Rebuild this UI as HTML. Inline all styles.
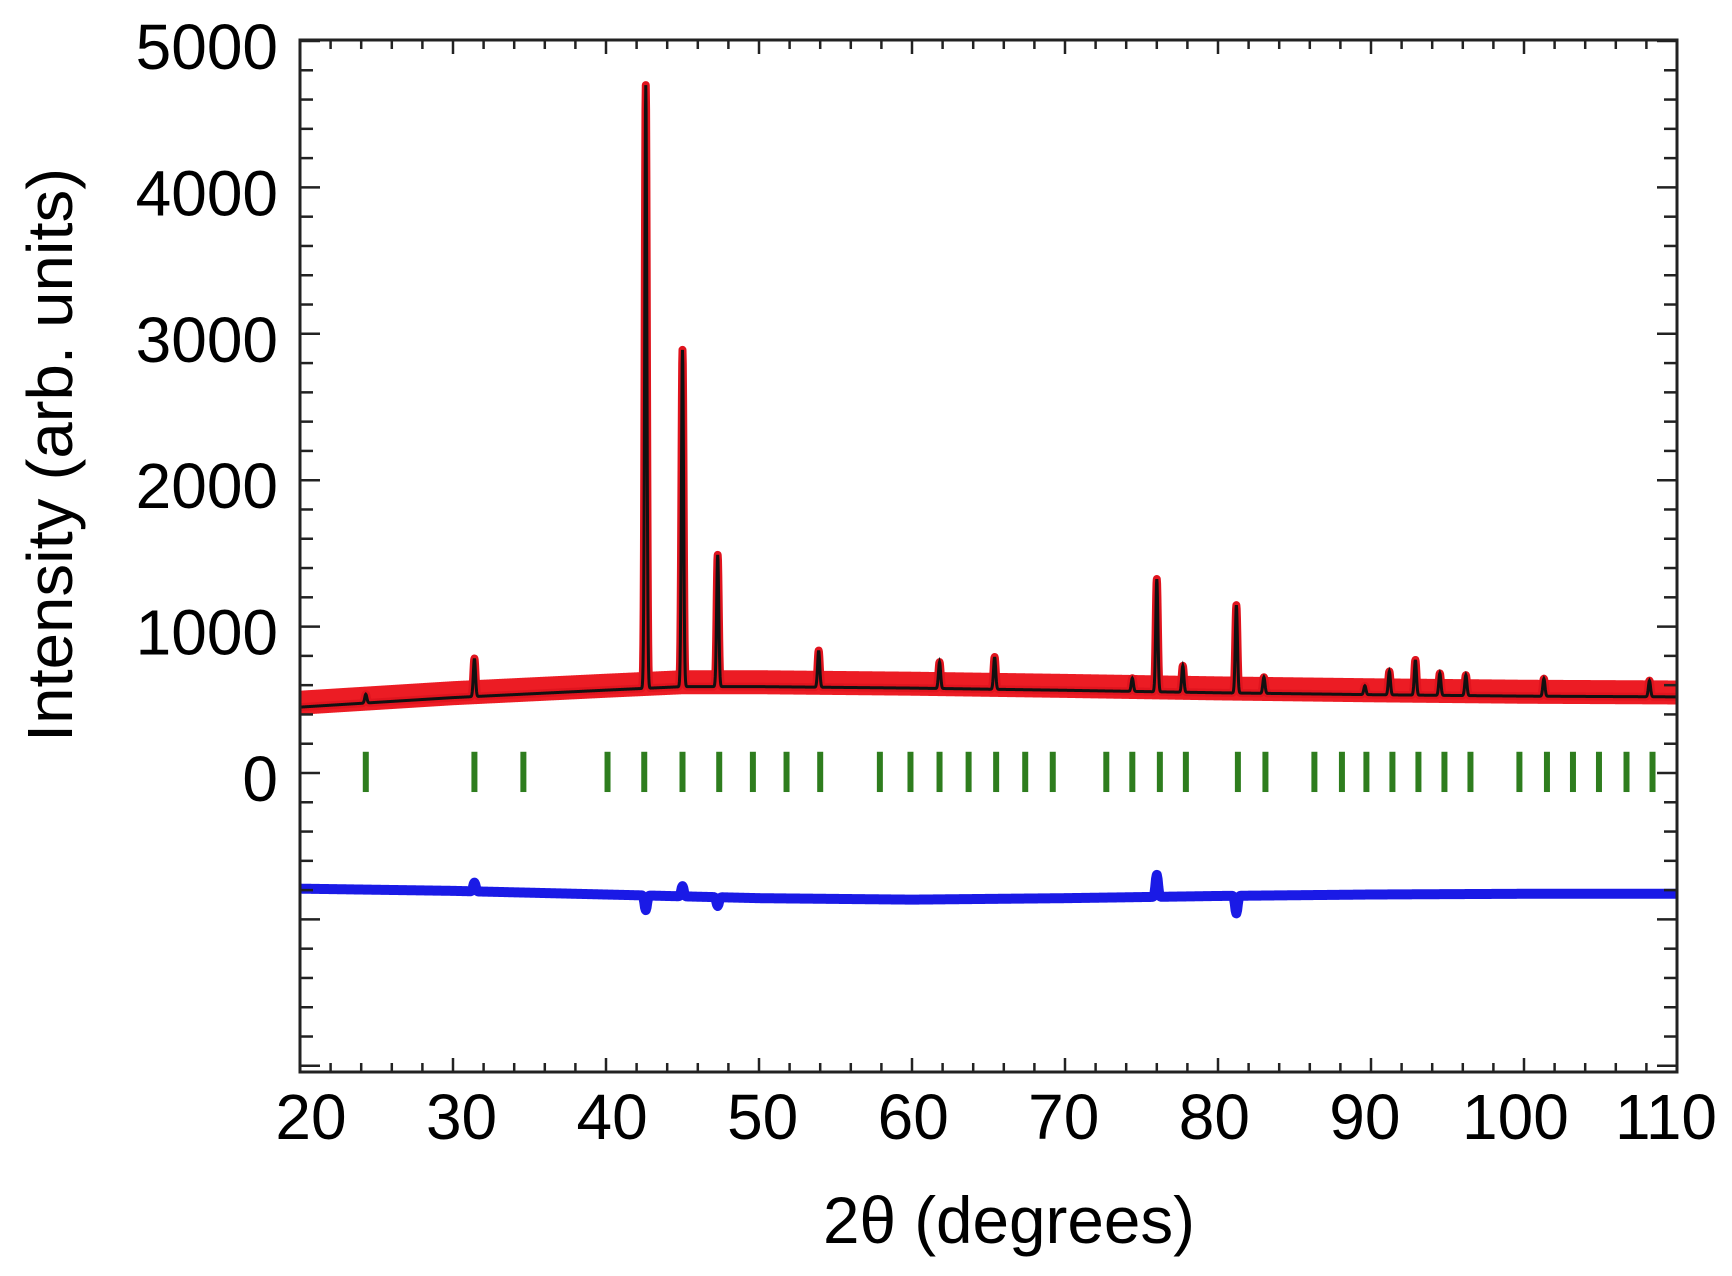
<!DOCTYPE html>
<html><head><meta charset="utf-8"><style>
html,body{margin:0;padding:0;background:#fff;}
svg{display:block;font-family:"Liberation Sans",sans-serif;}
</style></head><body>
<svg id="chart" width="1732" height="1276" viewBox="0 0 1732 1276" xmlns="http://www.w3.org/2000/svg">
<g id="plot"></g>
<g id="axes"></g>
<text x="0" y="0" transform="translate(72,455) rotate(-90)" text-anchor="middle" font-size="64" textLength="574" lengthAdjust="spacingAndGlyphs">Intensity (arb. units)</text>
<text x="1009" y="1243" text-anchor="middle" font-size="66" textLength="372" lengthAdjust="spacingAndGlyphs">2θ (degrees)</text>
</svg>
<script>
// ---- data ----
const bgAngles = [20, 30, 40, 45, 50, 60, 70, 80, 90, 100, 110];
const bgValues = [450, 515, 566, 590, 590, 580, 565, 548, 535, 525, 520];
const peakAngles = [24.3, 31.4, 42.6, 45.0, 47.3, 53.9, 61.8, 65.4, 74.4, 76.0, 77.7, 81.2, 83.0, 89.6, 91.2, 92.9, 94.5, 96.2, 101.3, 108.2];
const peakHeights = [60, 260, 4120, 2300, 900, 250, 180, 220, 90, 770, 180, 600, 110, 60, 160, 240, 150, 140, 120, 110];
const braggTicks = [24.3, 31.4, 34.6, 40.1, 42.5, 45.0, 47.4, 49.6, 51.8, 54.0, 57.9, 59.9, 61.8, 63.7, 65.5, 67.4, 69.2, 72.7, 74.4, 76.2, 77.9, 81.3, 83.1, 86.3, 88.1, 89.7, 91.4, 93.1, 94.8, 96.5, 99.7, 101.5, 103.2, 104.9, 106.7, 108.4];
const diffAngles = [20, 30, 40, 50, 60, 70, 80, 90, 100, 110];
const diffValues = [-790, -805, -830, -855, -865, -855, -840, -830, -825, -825];
const diffSpikeAngles = [31.4, 42.6, 45.0, 47.3, 76.0, 81.2];
const diffSpikeValues = [60, -100, 70, -60, 150, -120];
const xTickLabels = [20, 30, 40, 50, 60, 70, 80, 90, 100, 110];
const yTickLabels = [0, 1000, 2000, 3000, 4000, 5000];

// ---- scales ----
const X0 = 300, X1 = 1677, Y0 = 773, YTOP = 40, YBOT = 1072;
const xs = d => X0 + (d - 20) / 90 * (X1 - X0);
const ys = v => Y0 - v * (Y0 - 41) / 5000;
const NS = "http://www.w3.org/2000/svg";
const plot = document.getElementById('plot');
const axes = document.getElementById('axes');
function mk(tag, attrs, parent) { const e = document.createElementNS(NS, tag); for (const k in attrs) e.setAttribute(k, attrs[k]); parent.appendChild(e); return e; }
function interp(xa, ya, x) { for (let i = 0; i < xa.length - 1; i++) { if (x <= xa[i + 1]) { const t = (x - xa[i]) / (xa[i + 1] - xa[i]); return ya[i] + t * (ya[i + 1] - ya[i]); } } return ya[ya.length - 1]; }
function bg(x) { return interp(bgAngles, bgValues, x); }
function model(x) { let v = bg(x); for (let i = 0; i < peakAngles.length; i++) { const d = (x - peakAngles[i]) / 0.07; v += peakHeights[i] * Math.exp(-0.5 * d * d); } return v; }

const defs = mk('defs', {}, plot);
const cp = mk('clipPath', { id: 'clip' }, defs);
mk('rect', { x: X0, y: YTOP, width: X1 - X0, height: YBOT - YTOP }, cp);
const g = mk('g', { 'clip-path': 'url(#clip)' }, plot);

let dBand = '', dCalc = '';
for (let x = 20; x <= 110.001; x += 0.02) {
  dCalc += (dCalc ? 'L' : 'M') + xs(x).toFixed(2) + ' ' + ys(model(x)).toFixed(2);
  dBand += (dBand ? 'L' : 'M') + xs(x).toFixed(2) + ' ' + ys(bg(x) + 30).toFixed(2);
}
const band = mk('path', { d: dBand, fill: 'none', stroke: '#ec1c24', 'stroke-width': 24 }, g);


const obs = mk('path', { d: dCalc, fill: 'none', stroke: '#e0141e', 'stroke-width': 8, 'stroke-linejoin': 'round' }, g);


const calc = mk('path', { d: dCalc, fill: 'none', stroke: '#111', 'stroke-width': 3 }, g);



braggTicks.forEach(t => {
  const r = mk('rect', { x: xs(t) - 3, y: ys(145), width: 6, height: ys(-130) - ys(145), fill: '#2e7d1e' }, g);
  
  
});

let dDiff = '';
for (let x = 20; x <= 110.001; x += 0.05) {
  let v = interp(diffAngles, diffValues, x);
  for (let i = 0; i < diffSpikeAngles.length; i++) { const d = (x - diffSpikeAngles[i]) / 0.08; v += diffSpikeValues[i] * Math.exp(-0.5 * d * d); }
  dDiff += (dDiff ? 'L' : 'M') + xs(x).toFixed(2) + ' ' + ys(v).toFixed(2);
}
const diff = mk('path', { d: dDiff, fill: 'none', stroke: '#1a1ae6', 'stroke-width': 10, 'stroke-linejoin': 'round' }, g);



const frame = mk('rect', { x: X0, y: YTOP, width: X1 - X0, height: YBOT - YTOP, fill: 'none', stroke: '#222', 'stroke-width': 3 }, axes);



for (let d = 20; d <= 110; d += 2) {
  const major = d % 10 === 0, L = major ? 14 : 9, X = xs(d);
  mk('line', { x1: X, y1: YBOT, x2: X, y2: YBOT - L, stroke: '#222', 'stroke-width': 2.5 }, axes);
  mk('line', { x1: X, y1: YTOP, x2: X, y2: YTOP + L, stroke: '#222', 'stroke-width': 2.5 }, axes);
}
xTickLabels.forEach(v => {
  const shift = 11 - (v - 20) / 90 * 22;
  const t = mk('text', { x: xs(v) + shift, y: 1139, 'text-anchor': 'middle', 'font-size': 64 }, axes);
  t.textContent = v;
  
  
});
for (let v = -2000; v <= 5000; v += 200) {
  const Y = ys(v); if (Y > YBOT - 1 || Y < YTOP + 1) continue;
  const major = v % 1000 === 0, L = major ? 20 : 13;
  mk('line', { x1: X0, y1: Y, x2: X0 + L, y2: Y, stroke: '#222', 'stroke-width': 2.5 }, axes);
  mk('line', { x1: X1, y1: Y, x2: X1 - L, y2: Y, stroke: '#222', 'stroke-width': 2.5 }, axes);
}
yTickLabels.forEach(v => {
  const t = mk('text', { x: 278, y: ys(v) + 28, 'text-anchor': 'end', 'font-size': 64 }, axes);
  t.textContent = v;
  
  
});
</script>
</body></html>
